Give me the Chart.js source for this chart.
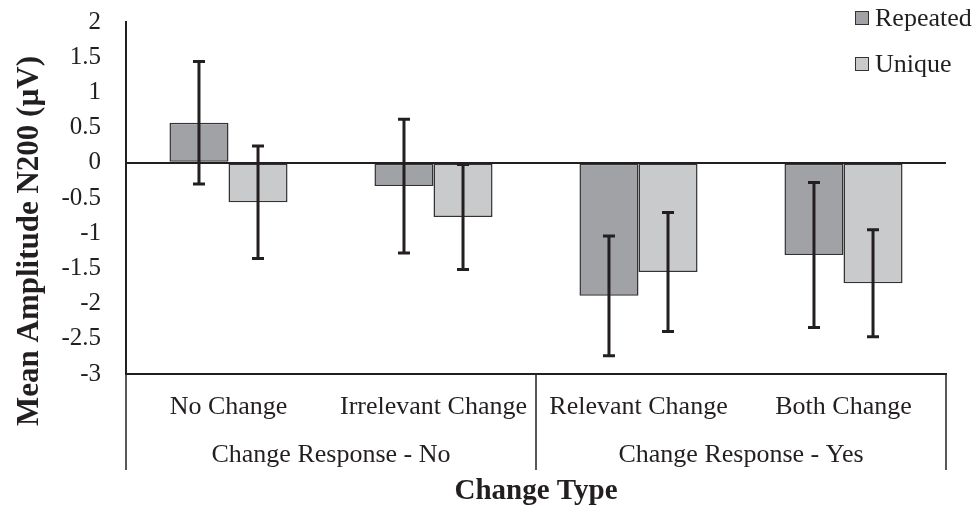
<!DOCTYPE html>
<html>
<head>
<meta charset="utf-8">
<script src="https://cdn.jsdelivr.net/npm/chart.js@4"></script>
<style>
  html, body { margin: 0; padding: 0; background: #fff; }
  #wrap { width: 976px; height: 506px; }
</style>
</head>
<body>
<div id="wrap"><canvas id="myChart" width="976" height="506"></canvas></div>
<script>
// data
const categories = ['No Change', 'Irrelevant Change', 'Relevant Change', 'Both Change'];
const groups = ['Change Response - No', 'Change Response - Yes'];
const repeated = [0.57, -0.33, -1.89, -1.31];
const repeatedErr = [0.87, 0.95, 0.85, 1.03];
const unique = [-0.56, -0.77, -1.55, -1.71];
const uniqueErr = [0.80, 0.745, 0.845, 0.76];
const yMin = -3, yMax = 2, yStep = 0.5;

const ink = '#231f20';
const serif = "'Liberation Serif', 'Times New Roman', serif";

// error bars, group labels, dividers, y title and legend
const extras = {
  id: 'extras',
  afterDatasetsDraw(chart) {
    const ctx = chart.ctx;
    const y = chart.scales.y;
    const errs = [repeatedErr, uniqueErr];
    ctx.save();
    ctx.strokeStyle = ink;
    ctx.lineWidth = 3;
    chart.data.datasets.forEach((ds, di) => {
      const meta = chart.getDatasetMeta(di);
      meta.data.forEach((bar, i) => {
        const top = y.getPixelForValue(ds.data[i] + errs[di][i]);
        const bot = y.getPixelForValue(ds.data[i] - errs[di][i]);
        ctx.beginPath();
        ctx.moveTo(bar.x, top); ctx.lineTo(bar.x, bot);
        ctx.moveTo(bar.x - 6, top); ctx.lineTo(bar.x + 6, top);
        ctx.moveTo(bar.x - 6, bot); ctx.lineTo(bar.x + 6, bot);
        ctx.stroke();
      });
    });
    ctx.restore();
  },
  afterDraw(chart) {
    const ctx = chart.ctx;
    const x = chart.scales.x;
    const area = chart.chartArea;
    const lineBottom = 470;
    ctx.save();
    // dividers under the axis
    ctx.strokeStyle = ink;
    ctx.lineWidth = 1.5;
    const mid = (x.getPixelForValue(1) + x.getPixelForValue(2)) / 2;
    [area.left, mid, area.right].forEach(px => {
      ctx.beginPath();
      ctx.moveTo(px, area.bottom);
      ctx.lineTo(px, lineBottom);
      ctx.stroke();
    });
    // group labels
    ctx.fillStyle = ink;
    ctx.font = '26px ' + serif;
    ctx.textAlign = 'center';
    ctx.textBaseline = 'middle';
    groups.forEach((g, gi) => {
      const cx = (x.getPixelForValue(gi * 2) + x.getPixelForValue(gi * 2 + 1)) / 2;
      ctx.fillText(g, cx, 455);
    });
    // y axis title
    ctx.save();
    ctx.translate(30, 241);
    ctx.rotate(-Math.PI / 2);
    ctx.font = 'bold 31px ' + serif;
    ctx.fillText('Mean Amplitude N200 (\u00b5V)', 0, 0);
    ctx.restore();
    // legend
    ctx.textAlign = 'left';
    ctx.font = '26px ' + serif;
    chart.data.datasets.forEach((ds, di) => {
      const cy = 18 + di * 46;
      ctx.fillStyle = ds.backgroundColor;
      ctx.fillRect(855, cy - 7, 13, 13);
      ctx.strokeStyle = '#333';
      ctx.lineWidth = 1;
      ctx.strokeRect(855.5, cy - 6.5, 13, 13);
      ctx.fillStyle = ink;
      ctx.fillText(ds.label, 875, cy + 1);
    });
    ctx.restore();
  }
};

const ctx = document.getElementById('myChart');
const chart = new Chart(ctx, {
  type: 'bar',
  data: {
    labels: categories,
    datasets: [{
      label: 'Repeated',
      data: repeated,
      backgroundColor: '#a1a2a5',
      borderColor: '#333333',
      borderWidth: 1.5,
      borderSkipped: false
    }, {
      label: 'Unique',
      data: unique,
      backgroundColor: '#c9cacc',
      borderColor: '#333333',
      borderWidth: 1.5,
      borderSkipped: false
    }]
  },
  options: {
    responsive: false,
    animation: false,
    layout: { padding: { top: 22, right: 30, left: 0, bottom: 0 } },
    datasets: { bar: { categoryPercentage: 0.576, barPercentage: 1.0 } },
    plugins: { legend: { display: false }, tooltip: { enabled: false } },
    scales: {
      x: {
        grid: { display: false, drawTicks: false },
        border: { display: true, color: ink, width: 2 },
        ticks: { color: ink, font: { family: serif, size: 26 }, padding: 18, maxRotation: 0 },
        title: { display: true, text: 'Change Type', color: ink,
                 font: { family: serif, size: 29, weight: 'bold', lineHeight: 1 }, padding: 0 },
        afterFit(scale) { scale.height = 132; }
      },
      y: {
        min: yMin, max: yMax,
        ticks: { stepSize: yStep, color: ink, font: { family: serif, size: 25 }, padding: 25,
                 callback: v => String(v) },
        grid: {
          drawTicks: false,
          lineWidth: 2,
          color: c => c.tick && c.tick.value === 0 ? ink : 'rgba(0,0,0,0)'
        },
        border: { display: true, color: ink, width: 2 },
        afterFit(scale) {
          scale.width = 126;
          scale.paddingTop = 0;
          scale.paddingBottom = 0;
        }
      }
    }
  },
  plugins: [extras]
});
</script>
</body>
</html>
